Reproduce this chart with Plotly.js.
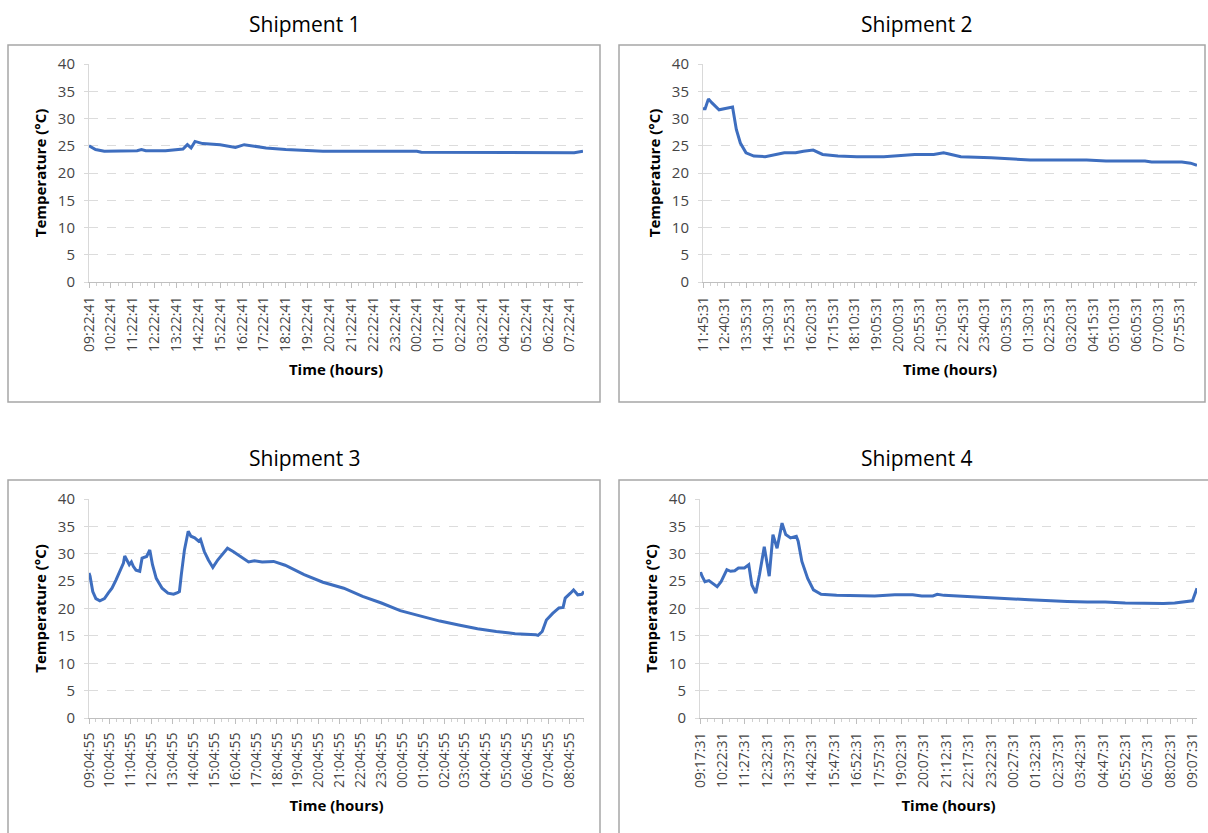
<!DOCTYPE html>
<html>
<head>
<meta charset="utf-8">
<script src="https://cdn.plot.ly/plotly-3.0.1.min.js"></script>
<style>
html,body{margin:0;padding:0;background:#ffffff;}
#chart{width:1208px;height:833px;}
</style>
</head>
<body>
<div id="chart"></div>
<script>
// ---------- DATA ----------
const shipmentTitles = ['Shipment 1', 'Shipment 2', 'Shipment 3', 'Shipment 4'];

const ship1Labels = ['09:22:41','10:22:41','11:22:41','12:22:41','13:22:41','14:22:41','15:22:41','16:22:41','17:22:41','18:22:41','19:22:41','20:22:41','21:22:41','22:22:41','23:22:41','00:22:41','01:22:41','02:22:41','03:22:41','04:22:41','05:22:41','06:22:41','07:22:41'];
const ship1LabelStepHours = 1;
const ship1Hours = [0, 0.3, 0.7, 1.5, 2.2, 2.4, 2.6, 3.5, 4.0, 4.3, 4.5, 4.67, 4.85, 5.2, 6.0, 6.7, 7.1, 8.1, 9.0, 9.9, 10.7, 12.5, 15.0, 15.2, 17.7, 17.9, 22.2, 22.6];
const ship1Temp  = [25.0, 24.3, 24.0, 24.0, 24.1, 24.3, 24.1, 24.1, 24.3, 24.4, 25.2, 24.6, 25.8, 25.4, 25.2, 24.7, 25.2, 24.6, 24.3, 24.1, 24.0, 24.0, 24.0, 23.8, 23.8, 23.7, 23.7, 24.0];

const ship2Labels = ['11:45:31','12:40:31','13:35:31','14:30:31','15:25:31','16:20:31','17:15:31','18:10:31','19:05:31','20:00:31','20:55:31','21:50:31','22:45:31','23:40:31','00:35:31','01:30:31','02:25:31','03:20:31','04:15:31','05:10:31','06:05:31','07:00:31','07:55:31'];
const ship2LabelStepHours = 55 / 60;
const ship2Hours = [0, 0.09, 0.23, 0.37, 0.68, 0.92, 1.09, 1.25, 1.41, 1.58, 1.82, 2.15, 2.63, 3.12, 3.44, 3.92, 4.25, 4.66, 5.06, 5.71, 6.51, 7.65, 8.62, 8.96, 9.76, 10.18, 10.41, 10.91, 12.19, 13.17, 13.84, 16.23, 17.05, 18.7, 18.98, 20.26, 20.63, 20.9];
const ship2Temp  = [31.8, 31.8, 33.6, 32.9, 31.6, 31.8, 32.0, 32.1, 28.0, 25.5, 23.7, 23.1, 23.0, 23.4, 23.7, 23.7, 24.0, 24.2, 23.4, 23.1, 23.0, 23.0, 23.2, 23.4, 23.4, 23.7, 23.5, 23.0, 22.8, 22.5, 22.4, 22.4, 22.2, 22.2, 22.0, 22.0, 21.8, 21.4];

const ship3Labels = ['09:04:55','10:04:55','11:04:55','12:04:55','13:04:55','14:04:55','15:04:55','16:04:55','17:04:55','18:04:55','19:04:55','20:04:55','21:04:55','22:04:55','23:04:55','00:04:55','01:04:55','02:04:55','03:04:55','04:04:55','05:04:55','06:04:55','07:04:55','08:04:55'];
const ship3LabelStepHours = 1;
const ship3Hours = [0, 0.05, 0.18, 0.33, 0.52, 0.74, 0.92, 1.1, 1.29, 1.47, 1.57, 1.65, 1.71, 1.84, 1.93, 2.03, 2.12, 2.25, 2.43, 2.54, 2.76, 2.91, 3.04, 3.22, 3.5, 3.78, 4.05, 4.24, 4.33, 4.42, 4.57, 4.75, 4.88, 5.06, 5.25, 5.34, 5.52, 5.71, 5.93, 6.17, 6.45, 6.63, 6.9, 7.27, 7.64, 7.92, 8.29, 8.84, 9.39, 10.3, 11.2, 12.2, 13.1, 14.0, 14.9, 15.8, 16.8, 17.7, 18.6, 19.5, 20.4, 21.4, 21.5, 21.7, 21.9, 22.2, 22.5, 22.7, 22.8, 23.05, 23.2, 23.4, 23.6, 23.7];
const ship3Temp  = [26.5, 25.9, 23.1, 21.8, 21.4, 21.8, 22.8, 23.7, 25.2, 26.8, 27.9, 28.3, 29.6, 28.6, 28.0, 28.5, 27.7, 27.0, 26.8, 29.2, 29.5, 30.7, 28.0, 25.5, 23.7, 22.8, 22.6, 22.9, 23.1, 26.2, 30.7, 34.1, 33.2, 32.9, 32.3, 32.6, 30.4, 28.9, 27.5, 28.9, 30.1, 31.0, 30.4, 29.5, 28.5, 28.7, 28.5, 28.6, 27.9, 26.2, 24.8, 23.7, 22.2, 21.0, 19.6, 18.7, 17.7, 17.0, 16.3, 15.8, 15.4, 15.2, 15.1, 15.8, 17.9, 19.1, 20.1, 20.2, 21.9, 22.8, 23.4, 22.5, 22.6, 23.1];

const ship4Labels = ['09:17:31','10:22:31','11:27:31','12:32:31','13:37:31','14:42:31','15:47:31','16:52:31','17:57:31','19:02:31','20:07:31','21:12:31','22:17:31','23:22:31','00:27:31','01:32:31','02:37:31','03:42:31','04:47:31','05:52:31','06:57:31','08:02:31','09:07:31'];
const ship4LabelStepHours = 65 / 60;
const ship4Hours = [0, 0.03, 0.1, 0.24, 0.43, 0.62, 0.83, 1.02, 1.3, 1.48, 1.68, 1.86, 2.15, 2.36, 2.51, 2.70, 2.88, 3.11, 3.35, 3.53, 3.73, 3.97, 4.15, 4.38, 4.66, 4.75, 4.93, 5.21, 5.49, 5.86, 6.61, 8.45, 9.43, 10.29, 10.73, 11.27, 11.48, 11.81, 13.11, 14.08, 14.95, 15.93, 16.79, 17.77, 18.74, 19.61, 20.58, 21.45, 22.43, 22.97, 23.51, 23.83, 24.05];
const ship4Temp  = [26.2, 26.6, 25.9, 24.9, 25.1, 24.6, 24.0, 24.9, 27.1, 26.8, 26.9, 27.4, 27.4, 28.0, 24.3, 22.8, 26.2, 31.3, 25.9, 33.5, 31.0, 35.6, 33.5, 32.9, 33.2, 32.3, 28.6, 25.5, 23.4, 22.6, 22.4, 22.3, 22.5, 22.5, 22.3, 22.3, 22.6, 22.4, 22.2, 22.0, 21.8, 21.6, 21.4, 21.3, 21.2, 21.2, 21.0, 20.9, 20.9, 21.0, 21.2, 21.4, 23.7];

const yTickValues = [0, 5, 10, 15, 20, 25, 30, 35, 40];
const xTitleText = 'Time (hours)';
const yTitleText = 'Temperature (°C)';

// ---------- LAYOUT ----------
const W = 1208, H = 833;
const FONT = '"Open Sans", "Liberation Sans", sans-serif';
const LINE_COLOR = '#3e6ebf';
const TICK_TEXT = '#454545';
const dx = (a, b) => [a / W, b / W];
const dy = (top, bottom) => [1 - bottom / H, 1 - top / H];

const panels = [
  { labels: ship1Labels, step: ship1LabelStepHours, hours: ship1Hours, temp: ship1Temp, xd: dx(89, 583), yd: dy(64, 282), box: [8, 45, 600, 402], tx: 305, ty: 24 },
  { labels: ship2Labels, step: ship2LabelStepHours, hours: ship2Hours, temp: ship2Temp, xd: dx(703, 1197), yd: dy(64, 282), box: [619, 45, 1205, 402], tx: 917, ty: 24 },
  { labels: ship3Labels, step: ship3LabelStepHours, hours: ship3Hours, temp: ship3Temp, xd: dx(89, 584), yd: dy(499, 718), box: [8, 480, 600, 845], tx: 305, ty: 458 },
  { labels: ship4Labels, step: ship4LabelStepHours, hours: ship4Hours, temp: ship4Temp, xd: dx(700, 1197), yd: dy(499, 718), box: [619, 480, 1215, 845], tx: 917, ty: 458 }
];

const data = [];
const layout = {
  width: W, height: H,
  margin: { l: 0, r: 0, t: 0, b: 0 },
  paper_bgcolor: '#ffffff',
  plot_bgcolor: '#ffffff',
  showlegend: false,
  font: { family: FONT, color: TICK_TEXT },
  annotations: [],
  shapes: []
};

panels.forEach((p, i) => {
  const n = i === 0 ? '' : String(i + 1);
  data.push({
    type: 'scatter', mode: 'lines',
    x: p.hours, y: p.temp,
    xaxis: 'x' + n, yaxis: 'y' + n,
    line: { color: LINE_COLOR, width: 3 },
    hoverinfo: 'skip'
  });
  layout['xaxis' + n] = {
    domain: p.xd, anchor: 'y' + n,
    range: [0, Math.max(...p.hours)],
    tickmode: 'array',
    tickvals: p.labels.map((_, k) => k * p.step),
    ticktext: p.labels,
    tickangle: -90,
    tickfont: { family: FONT, size: 14, color: TICK_TEXT },
    ticks: 'outside', ticklen: 5, tickcolor: '#bfbfbf', tickwidth: 1,
    ticklabelstandoff: 3,
    minor: { tick0: 0, dtick: p.step / 3, ticks: 'outside', ticklen: 3, tickcolor: '#d0d0d0', showgrid: false },
    showline: true, linecolor: '#bfbfbf', linewidth: 1,
    showgrid: false, zeroline: false, fixedrange: true,
    title: { text: xTitleText, font: { family: FONT, size: 15, color: '#000000', weight: 'bold' }, standoff: 13 }
  };
  layout['yaxis' + n] = {
    domain: p.yd, anchor: 'x' + n,
    range: [0, 40],
    tickmode: 'array', tickvals: yTickValues,
    tickfont: { family: FONT, size: 15, color: TICK_TEXT },
    ticks: 'outside', ticklen: 4, tickcolor: '#d9d9d9',
    ticklabelstandoff: 6,
    showline: true, linecolor: '#d9d9d9', linewidth: 1,
    showgrid: true, gridcolor: '#dcdcdc', griddash: 'dash', gridwidth: 1,
    zeroline: false, fixedrange: true,
    title: { text: yTitleText, font: { family: FONT, size: 15, color: '#000000', weight: 'bold' }, standoff: 7 }
  };
  layout.annotations.push({
    text: shipmentTitles[i], xref: 'paper', yref: 'paper',
    x: p.tx / W, y: 1 - p.ty / H, xanchor: 'center', yanchor: 'middle',
    showarrow: false, font: { family: FONT, size: 21, color: '#000000' }
  });
  layout.shapes.push({
    type: 'rect', xref: 'paper', yref: 'paper', layer: 'below',
    x0: p.box[0] / W, x1: p.box[2] / W, y0: 1 - p.box[3] / H, y1: 1 - p.box[1] / H,
    line: { color: '#a6a6a6', width: 1.5 }, fillcolor: 'rgba(0,0,0,0)'
  });
});

Plotly.newPlot('chart', data, layout, { staticPlot: true, displayModeBar: false });
</script>
</body>
</html>
